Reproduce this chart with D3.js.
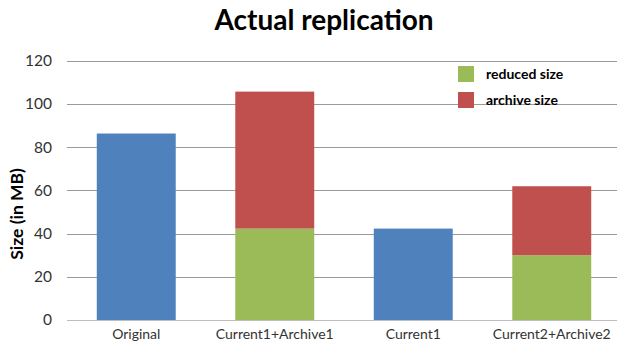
<!DOCTYPE html>
<html>
<head>
<meta charset="utf-8">
<script src="https://cdn.jsdelivr.net/npm/d3@7"></script>
<style>
  html, body { margin: 0; padding: 0; background: #fff; }
  svg { display: block; }
  text { font-family: Lato, "Open Sans", sans-serif; }
</style>
</head>
<body>
<svg id="chart" width="617" height="348"></svg>
<script>
// Replication sizes per snapshot, in MB
const categories = ["Original", "Current1+Archive1", "Current1", "Current2+Archive2"];
const sizeValues = [86.3, 0, 42.3, 0];
const reducedValues = [0, 42.3, 0, 30];
const archiveValues = [0, 63.4, 0, 31.9];
const yTicks = [0, 20, 40, 60, 80, 100, 120];
const seriesNames = ["size", "reduced size", "archive size"];
const legendNames = ["reduced size", "archive size"];

const colors = { "size": "#4F81BD", "reduced size": "#9BBB59", "archive size": "#C0504D" };

const rows = categories.map((c, i) => ({
  category: c,
  "size": sizeValues[i],
  "reduced size": reducedValues[i],
  "archive size": archiveValues[i]
}));

const svg = d3.select("#chart");
const plot = { left: 67, right: 621, top: 60.7, bottom: 320 };

const x = d3.scaleBand()
  .domain(categories)
  .range([plot.left, plot.right])
  .paddingInner(0.43)
  .paddingOuter(0.215);

const y = d3.scaleLinear()
  .domain([0, 120])
  .range([plot.bottom, plot.top]);

// Horizontal gridlines
svg.append("g")
  .selectAll("line")
  .data(yTicks)
  .join("line")
  .attr("x1", plot.left)
  .attr("x2", plot.right)
  .attr("y1", d => Math.round(y(d)) + 0.5)
  .attr("y2", d => Math.round(y(d)) + 0.5)
  .attr("stroke", d => d === 0 ? "#bdbdbd" : "#9a9a9a")
  .attr("stroke-width", 1);

// Y axis labels
const yAxis = d3.axisLeft(y).tickValues(yTicks).tickSize(0).tickPadding(15);
const gy = svg.append("g")
  .attr("transform", `translate(${plot.left},0)`)
  .call(yAxis);
gy.select(".domain").remove();
gy.selectAll("text")
  .attr("font-family", "Lato, 'Open Sans', sans-serif")
  .attr("font-size", 15.5)
  .attr("fill", "#333");

// Stacked bars
const stack = d3.stack().keys(seriesNames);
const layers = stack(rows);

svg.append("g")
  .selectAll("g")
  .data(layers)
  .join("g")
  .attr("fill", d => colors[d.key])
  .selectAll("rect")
  .data(d => d.filter(p => p[1] - p[0] > 0))
  .join("rect")
  .attr("x", d => x(d.data.category))
  .attr("width", x.bandwidth())
  .attr("y", d => y(d[1]))
  .attr("height", d => y(d[0]) - y(d[1]));

// X axis labels
const xAxis = d3.axisBottom(x).tickSize(0).tickPadding(9);
const gx = svg.append("g")
  .attr("transform", `translate(0,${plot.bottom})`)
  .call(xAxis);
gx.select(".domain").remove();
gx.selectAll("text")
  .attr("font-family", "Lato, 'Open Sans', sans-serif")
  .attr("font-size", 14)
  .attr("fill", "#333");

// Title
svg.append("text")
  .attr("x", 324)
  .attr("y", 30)
  .attr("text-anchor", "middle")
  .attr("font-size", 28)
  .attr("font-weight", "bold")
  .attr("fill", "#000")
  .text("Actual replication");

// Y axis title
svg.append("text")
  .attr("transform", "translate(23,214) rotate(-90)")
  .attr("text-anchor", "middle")
  .attr("font-size", 17.5)
  .attr("font-weight", "bold")
  .attr("fill", "#000")
  .text("Size (in MB)");

// Legend
const legend = svg.append("g")
  .selectAll("g")
  .data(legendNames)
  .join("g")
  .attr("transform", (d, i) => `translate(458,${66 + i * 26})`);
legend.append("rect")
  .attr("width", 16)
  .attr("height", 16)
  .attr("fill", d => colors[d]);
legend.append("text")
  .attr("x", 28)
  .attr("y", 13)
  .attr("font-size", 14)
  .attr("font-weight", "bold")
  .attr("fill", "#000")
  .text(d => d);
</script>
</body>
</html>
